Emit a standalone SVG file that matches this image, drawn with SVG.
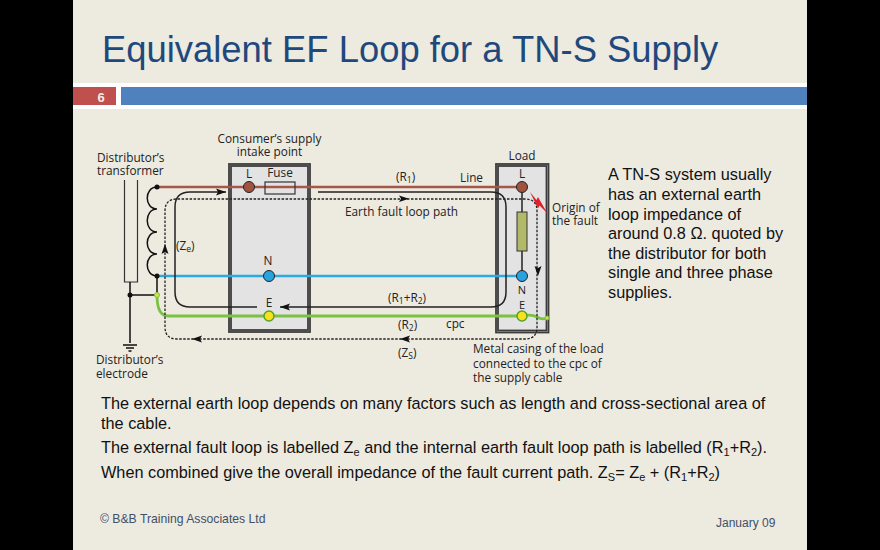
<svg xmlns="http://www.w3.org/2000/svg" width="880" height="550" viewBox="0 0 880 550">
<style>
.t{font-family:"Liberation Sans",Arial,sans-serif;fill:#111}
.body{font-size:16.3px}
.d{font-family:"Open Sans","Noto Sans",sans-serif;font-size:11.800px;fill:#222}
.s{font-size:11px}
.sub{font-size:8.500px}
.box{fill:#e3e3e3;stroke:#3c3c3c;stroke-width:1.8}
.boxo{fill:none;stroke:#3c3c3c;stroke-width:1.8}
.solid{fill:none;stroke:#222;stroke-width:1.5}
.dot{fill:none;stroke:#222;stroke-width:1.3;stroke-dasharray:2.5 1.5}
.ah{fill:#111}
.foot{font-size:12.200px;fill:#3f5068}
</style>
<rect width="880" height="550" fill="#000"/>
<rect x="73" y="0" width="734" height="550" fill="#edeae0"/>
<rect x="73" y="83" width="734" height="26" fill="#fff"/>
<rect x="73" y="87" width="43" height="18" fill="#c0504d"/>
<rect x="121" y="87" width="686" height="18" fill="#4f81bd"/>
<text class="t" x="97.500" y="101.500" style="font-size:13px;font-weight:bold;fill:#f4ece4">6</text>
<text class="t" x="102" y="62" style="font-size:36.400px;fill:#1f497d">Equivalent EF Loop for a TN-S Supply</text>

<g id="intake">
<rect class="box" x="229" y="164" width="81" height="168"/>
<rect class="boxo" x="231" y="166" width="77" height="164"/>
<text class="d" text-anchor="middle"><tspan x="269.500" y="143">Consumer’s supply</tspan><tspan x="269.500" y="156">intake point</tspan></text>
</g>
<g id="load">
<rect class="box" x="496" y="164" width="52.500" height="168.500"/>
<rect class="boxo" x="498" y="166" width="48.500" height="164.500"/>
<text class="d" x="522" y="160" text-anchor="middle">Load</text>
</g>

<g id="connectors">
<path d="M157 187H522" fill="none" stroke="#a5574a" stroke-width="2.500"/>
<path d="M157 276H522" fill="none" stroke="#29abe2" stroke-width="2.500"/>
<path d="M157 295Q157 316 168 316H522Q532 314 537 317T547 318" fill="none" stroke="#7cc242" stroke-width="2.800"/>
<path d="M157 187C144 187 144 209 157 209C144 209 144 232 157 232C144 232 144 254 157 254C144 254 144 276 157 276V295H130" fill="none" stroke="#111" stroke-width="1.500"/>
<path d="M124.500 180V282H137.500V180" fill="none" stroke="#333" stroke-width="1.200"/>
<path d="M130 282V343M123 345H137M126 348H134M128.500 351H131.500" fill="none" stroke="#111" stroke-width="1.500"/>
<path class="solid" d="M226 192H190Q175 192 175 207V292Q175 307 190 307H257M280 307H491Q506 307 506 292V207Q506 192 491 192H318"/>
<path class="dot" d="M403 199H525Q537 199 537 211V327Q537 339 525 339H177Q165 339 165 327V211Q165 199 177 199H403"/>
<path class="ah" d="M226 192L216 188.500L218 192L216 195.500Z"/>
<path class="ah" d="M280 307L290 303.500L288 307L290 310.500Z"/>
<path class="ah" d="M409 198.700L399 195.500L401 198.700L399 202Z"/>
<path class="ah" d="M538 276L534.500 266L538 268L541.500 266Z"/>
<path class="ah" d="M400 339L410 335.500L408 339L410 342.500Z"/>
<path class="ah" d="M192 339L202 335.500L200 339L202 342.500Z"/>
<path class="ah" d="M165 244L161.500 254L165 252L168.500 254Z"/>
<path d="M522 276V187" fill="none" stroke="#222" stroke-width="1.500"/>
<path d="M530 192L536.500 200L538 197L547.500 213.500L539.500 205.500L538 208.500Z" fill="#e0202a"/>
</g>

<g id="components">
<circle cx="157" cy="187" r="2.500" fill="#111"/>
<circle cx="157" cy="276" r="2.500" fill="#111"/>
<circle cx="130" cy="295" r="2.500" fill="#111"/>
<circle cx="157" cy="295" r="2.500" fill="#d6e04a" stroke="#7cc242"/>
<circle cx="547" cy="318" r="2" fill="#d6e04a" stroke="#7cc242"/>
<circle cx="249" cy="187" r="5.500" fill="#a0543f" stroke="#222"/>
<circle cx="269" cy="276" r="5.500" fill="#29a3e0" stroke="#222"/>
<circle cx="269" cy="316" r="5" fill="#f5e21a" stroke="#5aa02c" stroke-width="1.500"/>
<circle cx="522" cy="187" r="5.500" fill="#a0543f" stroke="#222"/>
<circle cx="522" cy="276" r="5.500" fill="#29a3e0" stroke="#222"/>
<circle cx="522" cy="316" r="5" fill="#f5e21a" stroke="#5aa02c" stroke-width="1.500"/>
<rect x="265" y="182" width="30" height="12" fill="none" stroke="#333" stroke-width="1.200"/>
<rect x="517" y="212" width="10" height="39" fill="#b3b96a" stroke="#333"/>
</g>

<g id="labels">
<text class="d"><tspan x="97" y="162">Distributor’s</tspan><tspan x="97" y="175">transformer</tspan></text>
<text class="d"><tspan x="96" y="364">Distributor’s</tspan><tspan x="96" y="378">electrode</tspan></text>
<text class="d" x="176" y="250">(Z<tspan class="sub" dy="2">e</tspan><tspan dy="-2">)</tspan></text>
<text class="d" x="249" y="178" text-anchor="middle">L</text>
<text class="d" x="280" y="177" text-anchor="middle">Fuse</text>
<text class="d" x="268" y="265" text-anchor="middle">N</text>
<text class="d" x="269" y="307" text-anchor="middle">E</text>
<text class="d" x="396" y="181">(R<tspan class="sub" dy="2">1</tspan><tspan dy="-2">)</tspan></text>
<text class="d" x="460" y="182">Line</text>
<text class="d" x="345" y="216">Earth fault loop path</text>
<text class="d" x="388" y="302">(R<tspan class="sub" dy="2">1</tspan><tspan dy="-2">+R</tspan><tspan class="sub" dy="2">2</tspan><tspan dy="-2">)</tspan></text>
<text class="d" x="398" y="329">(R<tspan class="sub" dy="2">2</tspan><tspan dy="-2">)</tspan></text>
<text class="d" x="446" y="328">cpc</text>
<text class="d" x="398" y="357">(Z<tspan class="sub" dy="2">S</tspan><tspan dy="-2">)</tspan></text>
<text class="d" x="522" y="178" text-anchor="middle">L</text>
<text class="d s" x="522" y="294" text-anchor="middle">N</text>
<text class="d s" x="522" y="309" text-anchor="middle">E</text>
<text class="d"><tspan x="552" y="212">Origin of</tspan><tspan x="552" y="225">the fault</tspan></text>
<text class="d"><tspan x="473" y="353">Metal casing of the load</tspan><tspan x="473" y="368">connected to the cpc of</tspan><tspan x="473" y="382">the supply cable</tspan></text>
</g>

<g id="text">
<text class="t body"><tspan x="608" y="180">A TN-S system usually</tspan><tspan x="608" y="200">has an external earth</tspan><tspan x="608" y="220">loop impedance of</tspan><tspan x="608" y="239">around 0.8 Ω. quoted by</tspan><tspan x="608" y="259">the distributor for both</tspan><tspan x="608" y="278">single and three phase</tspan><tspan x="608" y="298">supplies.</tspan></text>
<text class="t body"><tspan x="101" y="409">The external earth loop depends on many factors such as length and cross-sectional area of</tspan><tspan x="101" y="429">the cable.</tspan></text>
<text class="t body" x="101" y="453">The external fault loop is labelled Z<tspan font-size="11" dy="3">e</tspan><tspan dy="-3"> and the internal earth fault loop path is labelled (R</tspan><tspan font-size="11" dy="3">1</tspan><tspan dy="-3">+R</tspan><tspan font-size="11" dy="3">2</tspan><tspan dy="-3">).</tspan></text>
<text class="t body" x="101" y="478">When combined give the overall impedance of the fault current path. Z<tspan font-size="11" dy="3">S</tspan><tspan dy="-3">= Z</tspan><tspan font-size="11" dy="3">e</tspan><tspan dy="-3"> + (R</tspan><tspan font-size="11" dy="3">1</tspan><tspan dy="-3">+R</tspan><tspan font-size="11" dy="3">2</tspan><tspan dy="-3">)</tspan></text>
<text class="t foot" x="100" y="523">© B&amp;B Training Associates Ltd</text>
<text class="t foot" x="716" y="527" style="font-size:12px">January 09</text>
</g>
</svg>
